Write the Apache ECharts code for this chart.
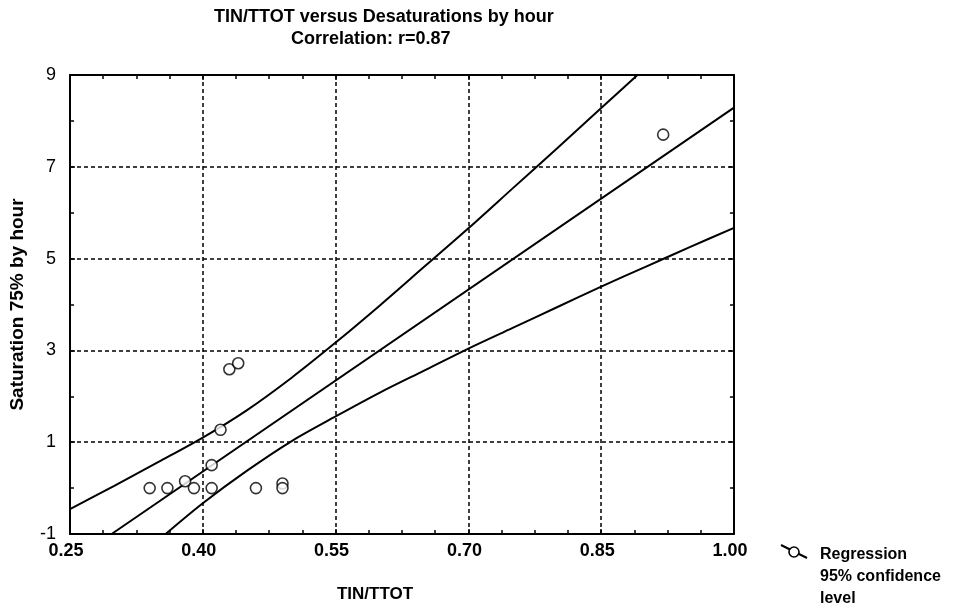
<!DOCTYPE html>
<html>
<head>
<meta charset="utf-8">
<title>TIN/TTOT versus Desaturations by hour</title>
<script src="https://cdn.jsdelivr.net/npm/echarts@6/dist/echarts.min.js"></script>
<style>
  html, body { margin: 0; padding: 0; background: #fff; }
  #chart { width: 963px; height: 603px; }
</style>
</head>
<body>
<div id="chart"></div>
<script>
// patients: TIN/TTOT and desaturations (75%) per hour
const tinTtot = [0.34, 0.36, 0.38, 0.39, 0.41, 0.41, 0.42, 0.43, 0.44, 0.46, 0.49, 0.49, 0.92];
const desatPerHour = [0, 0, 0.15, 0, 0, 0.5, 1.27, 2.59, 2.72, 0, 0.1, 0, 7.7];

// regression line and its 95% confidence band
const regX = [0.297, 1.0];
const regY = [-1, 8.29];
const upperX = [0.25, 0.30, 0.35, 0.40, 0.45, 0.50, 0.55, 0.60, 0.65, 0.70, 0.75, 0.80, 0.85, 0.891];
const upperY = [-0.46, 0.05, 0.57, 1.1, 1.7, 2.4, 3.17, 3.98, 4.82, 5.66, 6.53, 7.4, 8.28, 9.0];
const lowerX = [0.358, 0.40, 0.45, 0.50, 0.55, 0.60, 0.65, 0.70, 0.75, 0.80, 0.85, 0.90, 0.95, 1.0];
const lowerY = [-1, -0.33, 0.38, 1.02, 1.56, 2.08, 2.56, 3.04, 3.49, 3.94, 4.39, 4.82, 5.25, 5.67];

const xTicks = [0.25, 0.40, 0.55, 0.70, 0.85, 1.00];
const yTicks = [-1, 1, 3, 5, 7, 9];

const font = "Liberation Sans, Arial, sans-serif";
const pairs = (xs, ys) => xs.map((x, i) => [x, ys[i]]);

const chart = echarts.init(document.getElementById("chart"));

const tickStyle = { color: "#000", width: 1.5 };
const xBase = {
  type: "value",
  min: xTicks[0],
  max: xTicks[xTicks.length - 1],
  interval: 0.15,
  axisLine: { show: true, onZero: false, lineStyle: { color: "#000", width: 2 } },
  axisTick: { show: true, inside: true, length: 5, lineStyle: tickStyle },
  minorTick: { show: true, splitNumber: 4, length: 4, lineStyle: tickStyle }
};
const yBase = {
  type: "value",
  min: yTicks[0],
  max: yTicks[yTicks.length - 1],
  interval: 2,
  axisLine: { show: true, onZero: false, lineStyle: { color: "#000", width: 2 } },
  axisTick: { show: true, inside: true, length: 5, lineStyle: tickStyle },
  minorTick: { show: true, splitNumber: 2, length: 4, lineStyle: tickStyle }
};
const dashed = { show: true, lineStyle: { color: "#000", width: 1.5, type: [4, 3] } };
const bandLine = { color: "#000", width: 2 };

chart.setOption({
  animation: false,
  backgroundColor: "#fff",
  textStyle: { fontFamily: font },
  title: [
    {
      text: "TIN/TTOT versus Desaturations by hour",
      left: 209,
      top: 3,
      textStyle: { fontSize: 18, fontWeight: "bold", color: "#000", fontFamily: font }
    },
    {
      text: "Correlation: r=0.87",
      left: 286,
      top: 25,
      textStyle: { fontSize: 18, fontWeight: "bold", color: "#000", fontFamily: font }
    }
  ],
  grid: { left: 70, right: 229, top: 75, bottom: 69, containLabel: false, outerBoundsMode: "none" },
  xAxis: [
    Object.assign({}, xBase, {
      position: "bottom",
      name: "TIN/TTOT",
      nameLocation: "middle",
      nameGap: 52,
      nameTextStyle: { fontSize: 17, fontWeight: "bold", color: "#000", padding: [0, 54, 0, 0] },
      axisLabel: {
        margin: 8,
        fontSize: 18,
        fontWeight: "bold",
        color: "#000",
        padding: [0, 8, 0, 0],
        formatter: v => v.toFixed(2)
      },
      splitLine: dashed
    }),
    Object.assign({}, xBase, {
      position: "top",
      axisLabel: { show: false },
      splitLine: { show: false }
    })
  ],
  yAxis: [
    Object.assign({}, yBase, {
      position: "left",
      name: "Saturation 75% by hour",
      nameLocation: "middle",
      nameGap: 43,
      nameTextStyle: { fontSize: 19, fontWeight: "bold", color: "#000" },
      axisLabel: { margin: 14, fontSize: 18, color: "#000" },
      splitLine: dashed
    }),
    Object.assign({}, yBase, {
      position: "right",
      axisLabel: { show: false },
      splitLine: { show: false }
    })
  ],
  series: [
    {
      name: "Upper 95%",
      type: "line",
      data: pairs(upperX, upperY),
      smooth: 0.3,
      showSymbol: false,
      lineStyle: bandLine
    },
    {
      name: "Regression",
      type: "line",
      data: pairs(regX, regY),
      showSymbol: false,
      lineStyle: bandLine
    },
    {
      name: "Lower 95%",
      type: "line",
      data: pairs(lowerX, lowerY),
      smooth: 0.3,
      showSymbol: false,
      lineStyle: bandLine
    },
    {
      name: "Patients",
      type: "scatter",
      data: pairs(tinTtot, desatPerHour),
      symbol: "circle",
      symbolSize: 11,
      z: 5,
      itemStyle: { color: "#fff", borderColor: "#000", borderWidth: 1.6 }
    }
  ],
  graphic: [
    {
      type: "line",
      shape: { x1: 781, y1: 545, x2: 807, y2: 558 },
      style: { stroke: "#000", lineWidth: 2 }
    },
    {
      type: "circle",
      shape: { cx: 794, cy: 552, r: 5 },
      style: { fill: "#fff", stroke: "#000", lineWidth: 1.6 }
    },
    {
      type: "text",
      left: 820,
      top: 544,
      style: {
        text: "Regression\n95% confidence\nlevel",
        font: "bold 16px " + font,
        lineHeight: 22,
        fill: "#000"
      }
    }
  ]
});
</script>
</body>
</html>
